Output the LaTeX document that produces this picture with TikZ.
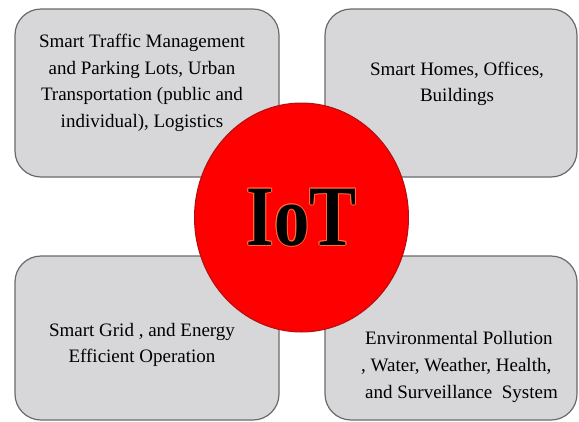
\documentclass[tikz,border=0pt]{standalone}
\usepackage{fontspec}
\setmainfont{Liberation Serif}
\newfontfamily\areafont{Liberation Serif}
\usetikzlibrary{shapes.geometric}
\definecolor{boxfill}{HTML}{D7D7D9}
\definecolor{boxline}{HTML}{6A6A6A}
\definecolor{hubred}{HTML}{FF0000}
\definecolor{hubedge}{HTML}{B01010}
\definecolor{glyphedge}{HTML}{FF6A3A}
\newcommand\arealine[1]{{\areafont #1}}
\tikzset{
  x=1pt, y=-1pt,
  areabox/.style={draw=boxline, line width=1.2pt, fill=boxfill, rounded corners=26pt,
    minimum width=#1, inner sep=0pt},
  areatext/.style={align=center, font=\fontsize{19}{26.7}\selectfont\areafont, inner sep=0pt},
  hub/.style={ellipse, draw=hubedge, line width=1pt, fill=hubred,
    minimum width=214pt, minimum height=229pt, inner sep=0pt},
  hubletters/.style={font=\fontsize{86}{86}\selectfont\areafont\bfseries, inner sep=0pt, xscale=0.82},
}
\begin{document}
\begin{tikzpicture}
\useasboundingbox (0,0) rectangle (579,421);
\fill[white] (0,0) rectangle (579,421);

% four application areas
\node[areabox=264pt, minimum height=168pt] (traffic) at (147,93) {};
\node[areabox=252pt, minimum height=168pt] (homes)   at (451,93) {};
\node[areabox=264pt, minimum height=164pt] (grid)    at (147,338) {};
\node[areabox=252pt, minimum height=164pt] (environ) at (451,338) {};

\node[areatext] (trafficT) at (142,83)
  {\arealine{Smart Traffic Management}\\\arealine{and Parking Lots, Urban}\\
   \arealine{Transportation (public and}\\\arealine{individual), Logistics}};
\node[areatext] (homesT) at (457,84) {\arealine{Smart Homes, Offices,}\\\arealine{Buildings}};
\node[areatext] (gridT) at (142,345)
  {\arealine{Smart Grid , and Energy}\\\arealine{Efficient Operation}};
\node[areatext, anchor=west, align=left] (environT) at (361,367)
  {\hspace*{4pt}\arealine{Environmental Pollution}\\\arealine{, Water, Weather, Health,}\\
   \hspace*{4pt}\arealine{and Surveillance\ \ System}};

% central hub
\node[hub] (iot) at (301.5,217.5) {};
\foreach \dx/\dy in {1/0,-1/0,0/1,0/-1,0.7/0.7,0.7/-0.7,-0.7/0.7,-0.7/-0.7}
  \node[hubletters, text=glyphedge] at ([shift={(\dx,\dy)}]iot.center) {IoT};
\node[hubletters, text=black] (iotT) at (iot.center) {IoT};
\end{tikzpicture}
\end{document}
